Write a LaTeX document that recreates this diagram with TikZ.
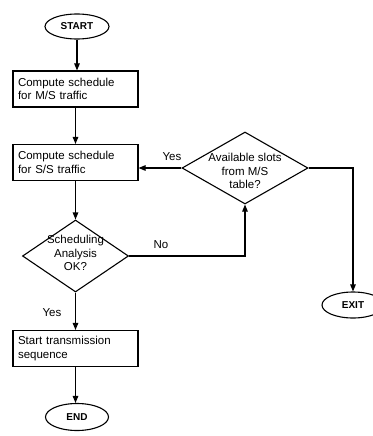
\documentclass[tikz,border=0pt]{standalone}
\usepackage{fontspec}
\setmainfont{Liberation Sans}
\usetikzlibrary{shapes.geometric,arrows.meta}
\begin{document}
\begin{tikzpicture}[x=1pt,y=-1pt,
  line width=1.1pt,
  every node/.style={font=\fontsize{11.5}{13.5}\selectfont},
  term/.style={draw,ellipse,inner sep=0pt,font=\fontsize{10}{11}\selectfont\bfseries},
  procbox/.style={draw,rectangle,minimum width=125pt,minimum height=36pt,text width=115pt,inner sep=5pt,align=left},
  dia/.style={draw,diamond,inner sep=0pt},
  diatext/.style={align=center,inner sep=0pt},
  lbl/.style={inner sep=0pt},
  arr/.style={-{Triangle[length=7pt,width=5.5pt]}}
]
\useasboundingbox (0,0) rectangle (372,436);

\node[term,minimum width=64pt,minimum height=25pt] (start) at (77,26.5) {START};
\node[procbox] (b1) at (75.5,89) {Compute schedule\\for M/S traffic};
\node[procbox] (b2) at (75.5,162.5) {Compute schedule\\for S/S traffic};
\node[dia,minimum width=106pt,minimum height=72pt] (d1) at (75.5,256) {};
\node[diatext] (d1t) at (75.5,253) {Scheduling\\Analysis\\OK?};
\node[dia,minimum width=126pt,minimum height=72pt] (d2) at (245,168) {};
\node[diatext] (d2t) at (245,171) {Available slots\\from M/S\\table?};
\node[procbox] (b3) at (75.5,348.5) {Start transmission\\sequence};
\node[term,minimum width=63pt,minimum height=27pt] (end) at (77,417) {END};
\node[term,minimum width=62pt,minimum height=26pt] (exit) at (353,305) {EXIT};

\node[lbl] (yes1) at (172,157) {Yes};
\node[lbl] (no) at (161,245) {No};
\node[lbl] (yes2) at (52,313) {Yes};

\draw[arr] (start.south) -- (start.south |- b1.north);
\draw[arr] (b1.south) -- (b2.north);
\draw[arr] (b2.south) -- (d1.north);
\draw[arr] (d1.south) -- (b3.north);
\draw[arr] (b3.south) -- (b3.south |- end.north);
\draw[arr] (d1.east) -| (d2.south);
\draw[arr] (d2.west) -- (d2.west -| b2.east);
\draw[arr] (d2.east) -| (exit.north);
\end{tikzpicture}
\end{document}
